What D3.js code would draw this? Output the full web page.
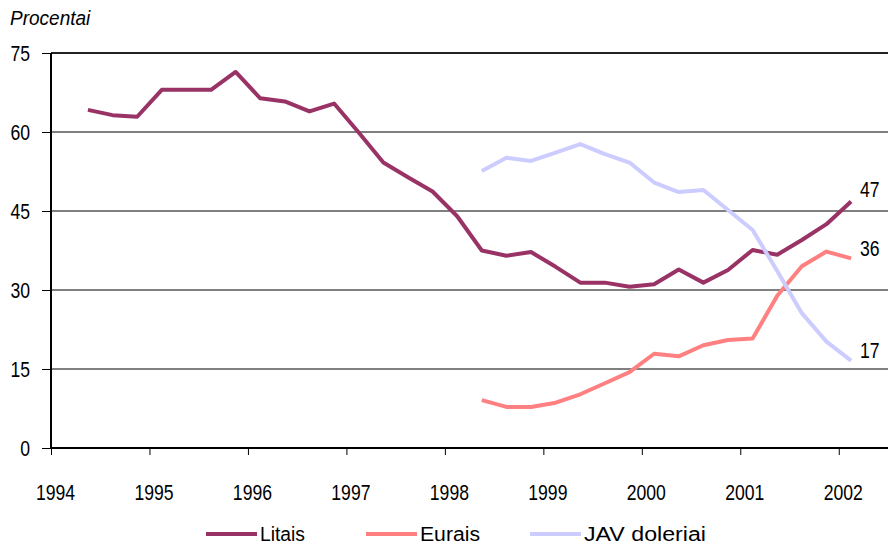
<!DOCTYPE html>
<html>
<head>
<meta charset="utf-8">
<script src="https://cdn.jsdelivr.net/npm/d3@7"></script>
<style>
  body { margin: 0; background: #fff; }
  text { font-family: "Liberation Sans", Arial, sans-serif; fill: #000; }
</style>
</head>
<body>
<div id="chart"></div>
<script>
// quarterly shares, %
var years = [1994, 1995, 1996, 1997, 1998, 1999, 2000, 2001, 2002];
var yTicks = [0, 15, 30, 45, 60, 75];

// Litai: from 1994 Q2 to 2002 Q1
var litaiStart = [1994, 2];
var litai = [64.2, 63.2, 62.9, 68.0, 68.0, 68.0, 71.4, 66.4, 65.8, 63.9, 65.4,
    59.9, 54.2, 51.4, 48.7, 44.0, 37.5, 36.5, 37.2, 34.4, 31.4, 31.4, 30.6,
    31.1, 33.9, 31.4, 33.8, 37.6, 36.7, 39.5, 42.5, 46.8];

// Eurais and JAV doleriai: from 1998 Q2 to 2002 Q1
var fxStart = [1998, 2];
var eurai = [9.1, 7.8, 7.8, 8.6, 10.2, 12.3, 14.4, 17.9, 17.4, 19.5, 20.5,
    20.8, 28.9, 34.5, 37.3, 36.0];
var doleriai = [52.6, 55.1, 54.5, 56.1, 57.7, 55.8, 54.2, 50.4, 48.6, 49.0,
    45.2, 41.4, 33.6, 25.6, 20.2, 16.6];

var seriesNames = ["Litais", "Eurais", "JAV doleriai"];
var endLabels = ["47", "36", "17"];
var colors = ["#993366", "#ff8080", "#ccccff"];

// turn a value list into points, one per quarter (middle of the quarter)
function toPoints(start, values) {
    return values.map(function(v, i) {
        var q = start[1] - 1 + i;
        var yr = start[0] + Math.floor(q / 4);
        return { t: yr + ((q % 4) + 0.5) / 4, v: v };
    });
}

// the original uses a tall, narrow face: squeeze the glyphs sideways
function squeeze(sel, k) {
    sel.each(function() {
        var w = this.getComputedTextLength();
        d3.select(this)
            .attr("textLength", w * k)
            .attr("lengthAdjust", "spacingAndGlyphs");
    });
}

var series = [
    toPoints(litaiStart, litai),
    toPoints(fxStart, eurai),
    toPoints(fxStart, doleriai)
];

var W = 888, H = 547;
var margin = { left: 51, right: 0, top: 53, bottom: 99 };
var width = W - margin.left - margin.right;
var height = H - margin.top - margin.bottom;

var svg = d3.select("#chart")
    .append("svg")
    .attr("width", W)
    .attr("height", H);

var g = svg.append("g")
    .attr("transform", "translate(" + margin.left + ", " + margin.top + ")");

var x = d3.scaleLinear()
    .domain([1994, 2002.5])
    .range([0, width]);

var y = d3.scaleLinear()
    .domain([0, 75])
    .range([height, 0]);

// gridlines
g.selectAll(".grid")
    .data(yTicks.filter(function(d) { return d > 0 && d < 75; }))
    .enter()
    .append("line")
    .attr("x1", 0)
    .attr("x2", width)
    .attr("y1", function(d) { return y(d); })
    .attr("y2", function(d) { return y(d); })
    .attr("stroke", "#000")
    .attr("stroke-width", 1);

// top border
g.append("line")
    .attr("x1", 0).attr("x2", width)
    .attr("y1", y(75)).attr("y2", y(75))
    .attr("stroke", "#222")
    .attr("stroke-width", 2);

// y axis
var yAxisCall = d3.axisLeft(y)
    .tickValues(yTicks)
    .tickSize(9)
    .tickPadding(12);
var yAxis = g.append("g").call(yAxisCall);
yAxis.select(".domain").attr("stroke-width", 2).attr("d", "M0," + height + "V0");
yAxis.selectAll("text")
    .attr("font-size", "22px")
    .attr("font-family", "Liberation Sans, Arial")
    .attr("dy", "0.36em")
    .call(squeeze, 0.8);

// x axis
var xAxisCall = d3.axisBottom(x)
    .tickValues(years)
    .tickFormat(d3.format("d"))
    .tickSize(7)
    .tickPadding(29);
var xAxis = g.append("g")
    .attr("transform", "translate(0, " + height + ")")
    .call(xAxisCall);
xAxis.select(".domain").attr("stroke-width", 2).attr("d", "M0,0H" + width);
xAxis.selectAll("text")
    .attr("font-size", "22px")
    .attr("font-family", "Liberation Sans, Arial")
    .attr("dx", "4")
    .call(squeeze, 0.8);

// lines
var line = d3.line()
    .x(function(d) { return x(d.t); })
    .y(function(d) { return y(d.v); });

g.selectAll(".series")
    .data(series)
    .enter()
    .append("path")
    .attr("fill", "none")
    .attr("stroke", function(d, i) { return colors[i]; })
    .attr("stroke-width", 4)
    .attr("stroke-linejoin", "round")
    .attr("d", line);

// end-of-line values
var labelShift = [-5, -2, -3];
g.selectAll(".endlab")
    .data(endLabels)
    .enter()
    .append("text")
    .attr("x", x(2002.125) + 9)
    .attr("y", function(d, i) {
        return y(series[i][series[i].length - 1].v) + labelShift[i];
    })
    .attr("font-size", "22px")
    .text(function(d) { return d; })
    .call(squeeze, 0.8);

// unit label
svg.append("text")
    .attr("x", 10)
    .attr("y", 25)
    .attr("font-size", "20px")
    .attr("font-style", "italic")
    .text("Procentai")
    .call(squeeze, 0.95);

// legend
var legendX = [206, 366, 530];
var legendTextW = [45, 60, 122];
var legend = svg.selectAll(".legend")
    .data(seriesNames)
    .enter()
    .append("g")
    .attr("transform", function(d, i) { return "translate(" + legendX[i] + ", 534)"; });

legend.append("line")
    .attr("x1", 0).attr("x2", 51)
    .attr("stroke", function(d, i) { return colors[i]; })
    .attr("stroke-width", 4);

legend.append("text")
    .attr("x", 54)
    .attr("y", 7)
    .attr("font-size", "20px")
    .attr("textLength", function(d, i) { return legendTextW[i]; })
    .attr("lengthAdjust", "spacingAndGlyphs")
    .text(function(d) { return d; });
</script>
</body>
</html>
